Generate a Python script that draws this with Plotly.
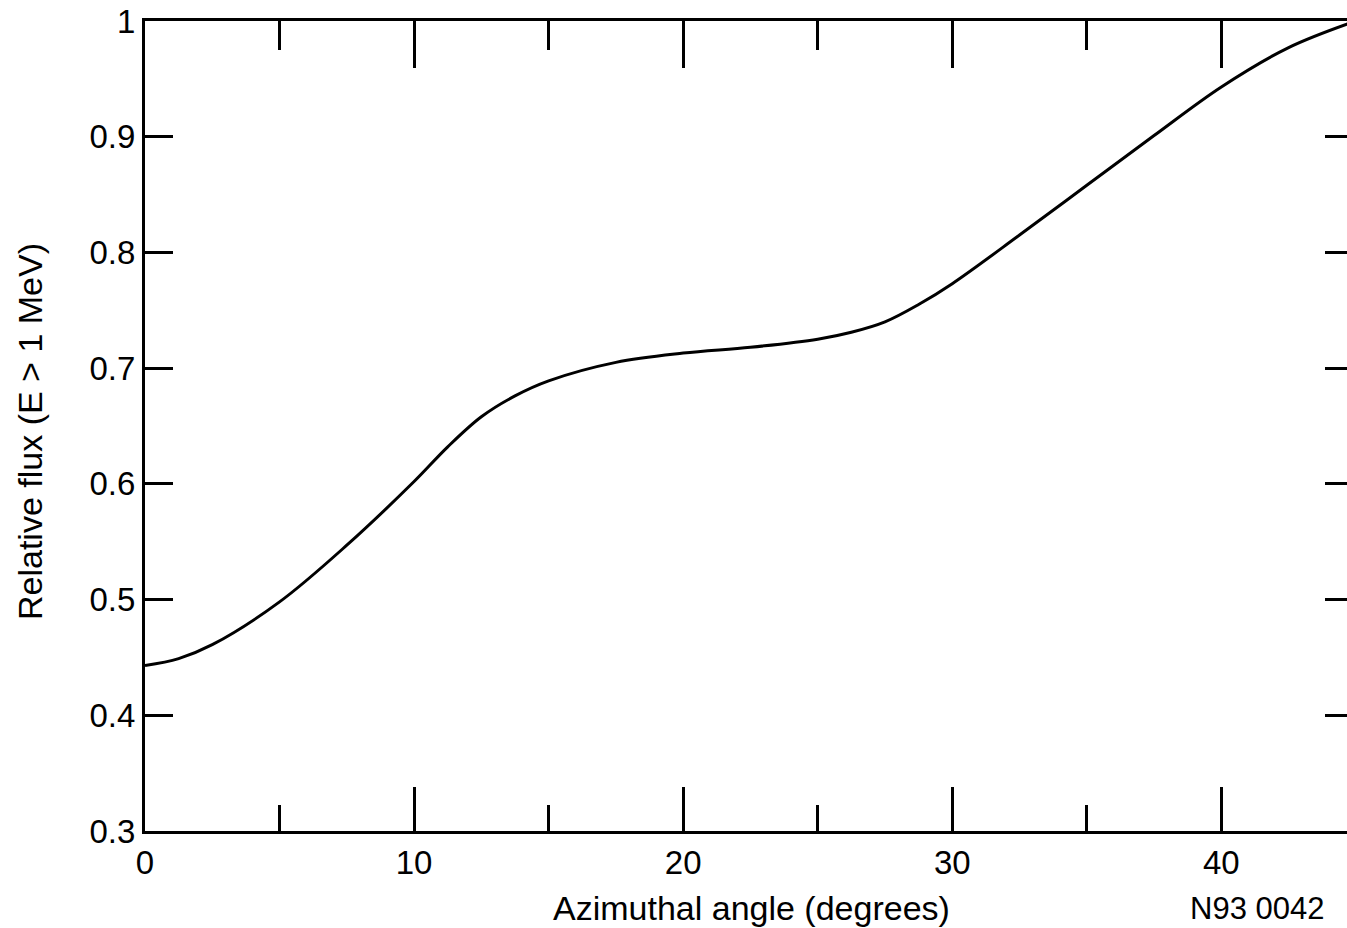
import plotly.graph_objects as go

# Data
angle_deg = [0, 1.25, 2.5, 5, 7.5, 10, 11.25, 12.5, 13.75, 15, 17.5, 20, 22.5, 25, 26.25,
             27.5, 28.75, 30, 32.5, 35, 37.5, 40, 42.5, 45]
relative_flux = [0.443, 0.449, 0.461, 0.498, 0.547, 0.602, 0.632, 0.658, 0.676, 0.689, 0.705,
                 0.713, 0.718, 0.725, 0.731, 0.740, 0.755, 0.773, 0.815, 0.858, 0.901,
                 0.943, 0.977, 1.000]

x_tick_vals = [0, 10, 20, 30, 40]
x_tick_text = ["0", "10", "20", "30", "40"]
y_tick_vals = [0.3, 0.4, 0.5, 0.6, 0.7, 0.8, 0.9, 1.0]
y_tick_text = ["0.3", "0.4", "0.5", "0.6", "0.7", "0.8", "0.9", "1"]

x_title = "Azimuthal angle (degrees)"
y_title = "Relative flux (E > 1 MeV)"
fig_code = "N93 0042"

FONT = "Liberation Sans, Arial, Helvetica, sans-serif"
XR = [0, 44.67]
YR = [0.3, 1.0]
TICK_FS = 33
TITLE_FS = 34

fig = go.Figure()
fig.add_trace(go.Scatter(x=angle_deg, y=relative_flux, mode="lines",
                         line=dict(color="black", width=3, shape="spline", smoothing=1.0),
                         showlegend=False, hoverinfo="skip", cliponaxis=True))

fig.update_layout(
    width=1347, height=928,
    margin=dict(l=145, r=0, t=21, b=97),
    paper_bgcolor="white", plot_bgcolor="white",
    font=dict(family=FONT, size=TICK_FS, color="black"),
    showlegend=False,
    xaxis=dict(range=XR, showgrid=False, zeroline=False, showline=True, linecolor="black",
               linewidth=3, ticks="inside", ticklen=44, tickwidth=3, tickcolor="black",
               tickvals=x_tick_vals, ticktext=x_tick_text,
               minor=dict(tickvals=[5, 15, 25, 35], ticks="inside", ticklen=26, tickwidth=3,
                          tickcolor="black", showgrid=False),
               tickfont=dict(size=TICK_FS, family=FONT, color="black"), fixedrange=True),
    xaxis2=dict(range=XR, overlaying="x", side="top", showgrid=False, zeroline=False,
                showline=True, linecolor="black", linewidth=3, ticks="inside", ticklen=47,
                tickwidth=3, tickcolor="black", tickvals=x_tick_vals, showticklabels=False,
                minor=dict(tickvals=[5, 15, 25, 35], ticks="inside", ticklen=29, tickwidth=3,
                           tickcolor="black", showgrid=False), fixedrange=True),
    yaxis=dict(range=YR, showgrid=False, zeroline=False, showline=True, linecolor="black",
               linewidth=3, ticks="inside", ticklen=28, tickwidth=3, tickcolor="black",
               tickvals=y_tick_vals, ticktext=y_tick_text,
               tickfont=dict(size=TICK_FS, family=FONT, color="black"), fixedrange=True),
    yaxis2=dict(range=YR, overlaying="y", side="right", showgrid=False, zeroline=False,
                showline=False, ticks="inside", ticklen=22, tickwidth=3, tickcolor="black",
                tickvals=[0.4, 0.5, 0.6, 0.7, 0.8, 0.9], showticklabels=False, fixedrange=True),
)

# dummy trace to activate secondary axes
fig.add_trace(go.Scatter(x=[None], y=[None], xaxis="x2", yaxis="y2", showlegend=False,
                         hoverinfo="skip"))

fig.add_annotation(text=x_title, xref="paper", yref="paper", x=(751 - 145) / 1202,
                   y=-(908 - 831) / 810, xanchor="center", yanchor="middle",
                   showarrow=False, font=dict(size=TITLE_FS, family=FONT, color="black"))
fig.add_annotation(text=y_title, xref="paper", yref="paper", x=-(145 - 30) / 1202,
                   y=(831 - 432) / 810, xanchor="center", yanchor="middle", textangle=-90,
                   showarrow=False, font=dict(size=TITLE_FS, family=FONT, color="black"))
fig.add_annotation(text=fig_code, xref="paper", yref="paper", x=(1257 - 145) / 1202,
                   y=-(908 - 831) / 810, xanchor="center", yanchor="middle",
                   showarrow=False, font=dict(size=31, family=FONT, color="black"))

fig.write_html("out.html", config={"displayModeBar": False})
